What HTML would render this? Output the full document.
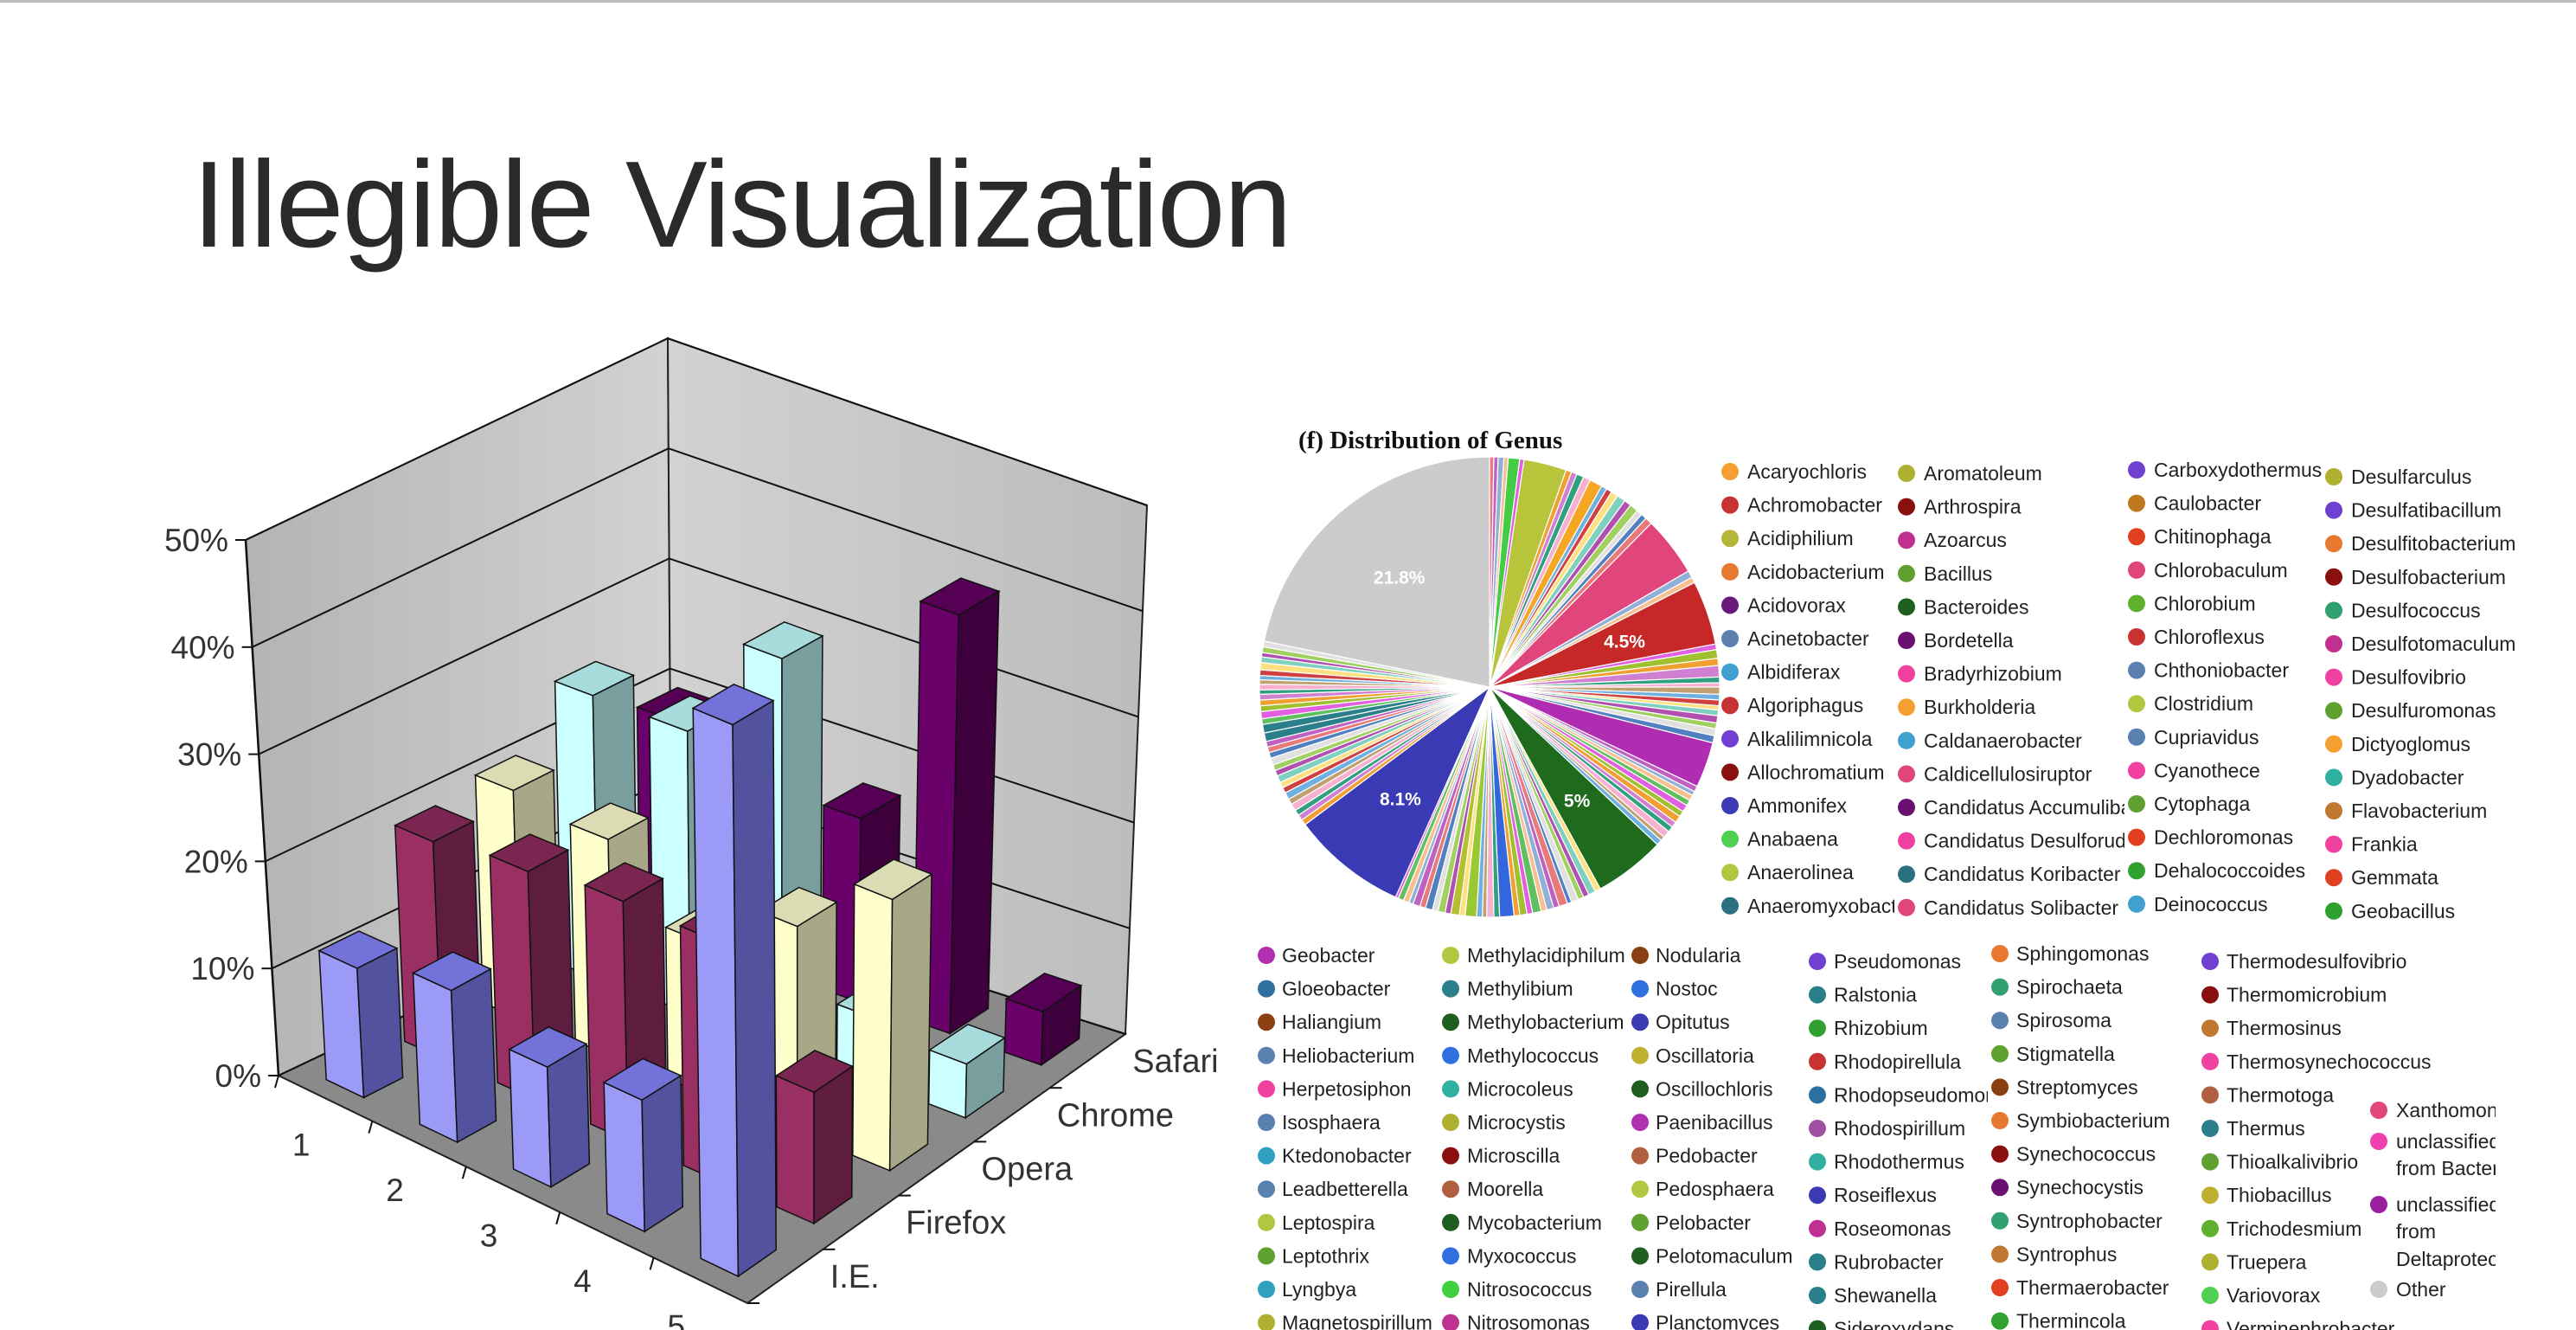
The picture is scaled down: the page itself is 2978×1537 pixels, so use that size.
<!DOCTYPE html>
<html><head><meta charset="utf-8"><style>
html,body{margin:0;padding:0;background:#fff;}
body{width:2978px;height:1537px;overflow:hidden;position:relative;font-family:"Liberation Sans",sans-serif;}
#topline{position:absolute;left:0;top:0;width:2978px;height:3px;background:#bbb;}
#title{position:absolute;left:222px;top:166px;font-size:142px;line-height:1;letter-spacing:-2px;color:#2a2a2a;font-weight:300;white-space:nowrap;}
svg{position:absolute;left:0;top:0;}
</style></head><body>
<div id="topline"></div>
<div id="title">Illegible Visualization</div>
<svg id="svg" width="2978" height="1537" xmlns="http://www.w3.org/2000/svg">
<defs>
<linearGradient id="wallL" x1="0" y1="0" x2="1" y2="0"><stop offset="0" stop-color="#b4b4b4"/><stop offset="1" stop-color="#d2d2d2"/></linearGradient>
<linearGradient id="wallR" x1="0" y1="0" x2="1" y2="0"><stop offset="0" stop-color="#d2d2d2"/><stop offset="1" stop-color="#bcbcbc"/></linearGradient>
</defs>
<g id="chart3d"></g>
<text x="1501" y="518" font-family="Liberation Serif, serif" font-weight="bold" font-size="29" fill="#111">(f) Distribution of Genus</text>
<g id="pie"></g>
<g id="legend"></g>
</svg>
<script>
// ---------- 3D bar chart data ----------
const categories = ['1','2','3','4','5'];
const seriesNames = ['I.E.','Firefox','Opera','Chrome','Safari'];
const ieVals = [12, 14, 11, 12, 50];
const firefoxVals = [20, 21, 22, 22, 12];
const operaVals = [21, 20, 14, 19, 25];
const chromeVals = [26, 26, 36, 6, 5];
const safariVals = [20, 12, 17, 39, 5];
const yTicks = [0,10,20,30,40,50];
const yTickLabels = ['0%','10%','20%','30%','40%','50%'];

// ---------- pie data ----------
const pieValues = [0.3,0.3,0.4,0.3,0.8,0.3,3.0,0.4,0.4,0.5,0.5,0.9,0.4,0.4,0.5,0.6,0.5,0.6,0.4,0.4,0.5,4.2,0.5,0.4,4.5,
0.4,0.6,0.5,0.8,0.4,0.3,0.5,0.4,0.4,0.3,0.4,0.5,0.4,0.5,0.5,3.2,
0.4,0.3,0.4,0.4,0.5,0.4,0.5,0.4,0.4,0.5,0.3,0.4,5.0,
0.4,0.5,0.4,0.4,0.5,0.3,0.6,0.4,0.5,0.4,0.6,0.4,0.5,0.4,1.0,0.4,0.5,0.3,0.4,0.8,0.4,0.6,0.4,0.5,0.4,0.5,0.4,0.5,0.3,0.4,0.4,0.2,8.1,
0.4,0.4,0.4,0.5,0.4,0.5,0.4,0.4,0.5,0.4,0.4,0.5,0.4,0.4,0.4,0.6,0.6,0.4,0.5,0.4,0.4,0.4,0.3,0.4,0.3,0.3,0.4,0.5,0.4,0.3,0.4,0.4,21.8];
const pieLabels = ['21.8%','4.5%','5%','8.1%'];
const pieLabelValues = [21.8,4.5,5.0,8.1];

// ---------- legend data ----------
const legendTop = [
[['Acaryochloris','#f5a030'],['Achromobacter','#c83232'],['Acidiphilium','#b5b53a'],['Acidobacterium','#e87830'],['Acidovorax','#6a1a7a'],['Acinetobacter','#5a80b0'],['Albidiferax','#40a0d0'],['Algoriphagus','#c83232'],['Alkalilimnicola','#7040d0'],['Allochromatium','#8a1010'],['Ammonifex','#3a3ab5'],['Anabaena','#50d050'],['Anaerolinea','#b0c840'],['Anaeromyxobacter','#2a7080']],
[['Aromatoleum','#b0b030'],['Arthrospira','#8a1010'],['Azoarcus','#c03090'],['Bacillus','#60a030'],['Bacteroides','#1e5e1e'],['Bordetella','#6a1070'],['Bradyrhizobium','#f040a0'],['Burkholderia','#f5a030'],['Caldanaerobacter','#40a0d0'],['Caldicellulosiruptor','#e0457b'],['Candidatus Accumulibacter','#6a1070'],['Candidatus Desulforudis','#f040a0'],['Candidatus Koribacter','#2a7080'],['Candidatus Solibacter','#e0457b']],
[['Carboxydothermus','#7040d0'],['Caulobacter','#c07820'],['Chitinophaga','#e04020'],['Chlorobaculum','#e0457b'],['Chlorobium','#60b030'],['Chloroflexus','#c83232'],['Chthoniobacter','#5a80b0'],['Clostridium','#b0c840'],['Cupriavidus','#5a80b0'],['Cyanothece','#f040a0'],['Cytophaga','#60a030'],['Dechloromonas','#e04020'],['Dehalococcoides','#30a030'],['Deinococcus','#40a0d0']],
[['Desulfarculus','#b0b030'],['Desulfatibacillum','#7040d0'],['Desulfitobacterium','#e87830'],['Desulfobacterium','#8a1010'],['Desulfococcus','#30a070'],['Desulfotomaculum','#c03090'],['Desulfovibrio','#f040a0'],['Desulfuromonas','#60a030'],['Dictyoglomus','#f5a030'],['Dyadobacter','#30b0a0'],['Flavobacterium','#c07830'],['Frankia','#f040a0'],['Gemmata','#e04020'],['Geobacillus','#30a030']]
];
const legendBottom = [
[['Geobacter','#b030b0'],['Gloeobacter','#3070a0'],['Haliangium','#8a4010'],['Heliobacterium','#5a80b0'],['Herpetosiphon','#f040a0'],['Isosphaera','#5a80b0'],['Ktedonobacter','#30a0c0'],['Leadbetterella','#5a80b0'],['Leptospira','#b0c840'],['Leptothrix','#60a030'],['Lyngbya','#30a0c0'],['Magnetospirillum','#b0b030']],
[['Methylacidiphilum','#b0c840'],['Methylibium','#2a7f8a'],['Methylobacterium','#1e5e1e'],['Methylococcus','#3070e0'],['Microcoleus','#30b0a0'],['Microcystis','#b0b030'],['Microscilla','#8a1010'],['Moorella','#b06040'],['Mycobacterium','#1e5e1e'],['Myxococcus','#3070e0'],['Nitrosococcus','#40d040'],['Nitrosomonas','#c03090']],
[['Nodularia','#8a4010'],['Nostoc','#3070e0'],['Opitutus','#3a3ab5'],['Oscillatoria','#c0b030'],['Oscillochloris','#1e5e1e'],['Paenibacillus','#b030b0'],['Pedobacter','#b06040'],['Pedosphaera','#b0c840'],['Pelobacter','#60a030'],['Pelotomaculum','#1e5e1e'],['Pirellula','#5a80b0'],['Planctomyces','#3a3ab5']],
[['Pseudomonas','#7040d0'],['Ralstonia','#2a7f8a'],['Rhizobium','#30a030'],['Rhodopirellula','#c83232'],['Rhodopseudomonas','#2a70a0'],['Rhodospirillum','#a050a0'],['Rhodothermus','#30b0a0'],['Roseiflexus','#3a3ab5'],['Roseomonas','#c03090'],['Rubrobacter','#2a7f8a'],['Shewanella','#2a7f8a'],['Sideroxydans','#1e5e1e']],
[['Sphingomonas','#e87830'],['Spirochaeta','#30a070'],['Spirosoma','#5a80b0'],['Stigmatella','#60a030'],['Streptomyces','#8a4010'],['Symbiobacterium','#e87830'],['Synechococcus','#8a1010'],['Synechocystis','#6a1070'],['Syntrophobacter','#30a070'],['Syntrophus','#c07830'],['Thermaerobacter','#e04020'],['Thermincola','#30a030']],
[['Thermodesulfovibrio','#7040d0'],['Thermomicrobium','#8a1010'],['Thermosinus','#c07830'],['Thermosynechococcus','#f040a0'],['Thermotoga','#b06040'],['Thermus','#2a7f8a'],['Thioalkalivibrio','#60a030'],['Thiobacillus','#c0b030'],['Trichodesmium','#60b030'],['Truepera','#b0b030'],['Variovorax','#50d050'],['Verminephrobacter','#f040a0']]
];

const NS='http://www.w3.org/2000/svg';
function mk(tag, attrs, parent){const e=document.createElementNS(NS,tag);for(const k in attrs)e.setAttribute(k,attrs[k]);parent.appendChild(e);return e;}

// ---------- 3D projection ----------
const floorC={L:[322,1243],F:[864,1506],R:[1301,1195],B:[776,1027]};
const topC={L:[284,624],F:[858,866],R:[1326,584],B:[772,391]};
function bil(c,u,v){const a=(1-u)*(1-v),b=u*(1-v),r=u*v,d=(1-u)*v;
 return [c.L[0]*a+c.F[0]*b+c.R[0]*r+c.B[0]*d, c.L[1]*a+c.F[1]*b+c.R[1]*r+c.B[1]*d];}
function proj(u,v,h){const p=bil(floorC,u,v),t=bil(topC,u,v),f=h/50;return [p[0]+(t[0]-p[0])*f,p[1]+(t[1]-p[1])*f];}
function pts(arr){return arr.map(p=>p[0].toFixed(1)+','+p[1].toFixed(1)).join(' ');}

const g3=document.getElementById('chart3d');
let e;
e=mk('polygon',{points:pts([proj(0,0,0),proj(0,1,0),proj(0,1,50),proj(0,0,50)]),fill:'url(#wallL)',stroke:'#222','stroke-width':2},g3);


e=mk('polygon',{points:pts([proj(0,1,0),proj(1,1,0),proj(1,1,50),proj(0,1,50)]),fill:'url(#wallR)',stroke:'#222','stroke-width':2},g3);


e=mk('polygon',{points:pts([proj(0,0,0),proj(1,0,0),proj(1,1,0),proj(0,1,0)]),fill:'#8a8a8a',stroke:'#222','stroke-width':2},g3);


yTicks.forEach((t,i)=>{
 const a=proj(0,0,t),b=proj(0,1,t),c=proj(1,1,t);
 e=mk('polyline',{points:pts([a,b,c]),fill:'none',stroke:'#111','stroke-width':2},g3);
 
 
 mk('line',{x1:a[0]-12,y1:a[1],x2:a[0],y2:a[1],stroke:'#111','stroke-width':2},g3);
 e=mk('text',{x:a[0]-20,y:a[1]+13,'text-anchor':'end','font-size':37,fill:'#333'},g3);
 e.textContent=yTickLabels[i];
 
 
});
mk('line',{x1:proj(0,0,0)[0],y1:proj(0,0,0)[1],x2:proj(0,0,50)[0],y2:proj(0,0,50)[1],stroke:'#111','stroke-width':2.5},g3);
categories.forEach((c,i)=>{
 const tk=proj(i/5,0,0);
 mk('line',{x1:tk[0],y1:tk[1],x2:tk[0]-4,y2:tk[1]+14,stroke:'#111','stroke-width':2},g3);
 const p=proj((i+0.5)/5,0,0);
 e=mk('text',{x:p[0]-28,y:p[1]+66,'text-anchor':'middle','font-size':37,fill:'#333'},g3);
 e.textContent=c;
 
 
});
seriesNames.forEach((s,j)=>{
 const tk=proj(1,j/5,0);
 mk('line',{x1:tk[0],y1:tk[1],x2:tk[0]+14,y2:tk[1],stroke:'#111','stroke-width':2},g3);
 const p=proj(1,(j+0.5)/5,0);
 e=mk('text',{x:p[0]+52,y:p[1]+13,'font-size':38,fill:'#333'},g3);
 e.textContent=s;
 
 
});
const seriesVals=[ieVals,firefoxVals,operaVals,chromeVals,safariVals];
const faceCols=[['#9b9bf7','#52529e','#7272d8'],['#9a2f64','#5e1c3e','#7a2650'],['#ffffcc','#a8a888','#dcdcb4'],['#ccffff','#789e9e','#a8dcdc'],['#6a006a','#3d003d','#550055']];
const bars=[];
seriesVals.forEach((vals,j)=>vals.forEach((val,i)=>bars.push({i,j,val})));
bars.sort((a,b)=>((a.i-a.j)-(b.i-b.j))||(b.j-a.j));
bars.forEach(b=>{
 const uc=(b.i+0.5)/5,vc=(b.j+0.5)/5,du=0.04,dv=0.05,h=b.val;
 const u0=uc-du,u1=uc+du,v0=vc-dv,v1=vc+dv,col=faceCols[b.j];
 const g=mk('g',{},g3);
 
 
 mk('polygon',{points:pts([proj(u0,v0,0),proj(u1,v0,0),proj(u1,v0,h),proj(u0,v0,h)]),fill:col[0],stroke:'#111','stroke-width':1.5},g);
 mk('polygon',{points:pts([proj(u1,v0,0),proj(u1,v1,0),proj(u1,v1,h),proj(u1,v0,h)]),fill:col[1],stroke:'#111','stroke-width':1.5},g);
 mk('polygon',{points:pts([proj(u0,v0,h),proj(u1,v0,h),proj(u1,v1,h),proj(u0,v1,h)]),fill:col[2],stroke:'#111','stroke-width':1.5},g);
});

// ---------- pie ----------
const pieG=document.getElementById('pie');
const cx=1722,cy=794,R=266;
const palette=['#e87a7a','#c060c0','#90b0d8','#f8c090','#60c060','#e060e0','#a0c030','#f0a030','#d080d0','#30a080','#f8b0d0','#c0a070','#70b0e0','#d04040','#ffe080','#80d0c0','#b050b0','#9fd060','#e0e0e0','#5080c0'];
const special={};special[6]='#b8c43a';special[4]='#44cc44';special[11]='#f5a623';special[21]='#e0457b';special[24]='#c62828';special[40]='#b02cb0';special[53]='#1e6b1e';special[68]='#3366dd';special[73]='#9ac832';special[75]='#b5c030';special[86]='#3a3ab5';special[102]='#2a7f8a';special[103]='#2a7f8a';special[pieValues.length-1]='#cccccc';
const total=pieValues.reduce((a,b)=>a+b,0);
let acc=0;
pieValues.forEach((v,k)=>{
 const a0=acc/total*2*Math.PI; acc+=v; const a1=acc/total*2*Math.PI;
 const x0=cx+R*Math.sin(a0),y0=cy-R*Math.cos(a0),x1=cx+R*Math.sin(a1),y1=cy-R*Math.cos(a1);
 const large=(a1-a0)>Math.PI?1:0;
 const col=special[k]||palette[k%palette.length];
 const p=mk('path',{d:`M${cx},${cy} L${x0.toFixed(1)},${y0.toFixed(1)} A${R},${R} 0 ${large} 1 ${x1.toFixed(1)},${y1.toFixed(1)} Z`,fill:col,stroke:'#fff','stroke-width':1.2},pieG);
 
 
 const li=pieLabelValues.indexOf(v);
 if(li>=0 && v>=4.5){
  const am=(a0+a1)/2,rr=R*0.62;
  const t=mk('text',{x:cx+rr*Math.sin(am),y:cy-rr*Math.cos(am)+8,'text-anchor':'middle','font-size':21,'font-weight':'bold',fill:'#fff'},pieG);
  t.textContent=pieLabels[li];
  
  
 }
});

// ---------- legends ----------
const legG=document.getElementById('legend');
const defs=document.querySelector('defs');
function legendCol(items,dotX,textX,clipRight,y0,step,key){
 const cp=mk('clipPath',{id:'cp'+key},defs);
 mk('rect',{x:textX-2,y:0,width:clipRight-textX,height:1537},cp);
 const g=mk('g',{'clip-path':'url(#cp'+key+')'},legG);
 items.forEach((it,r)=>{
  const y=y0+r*step;
  const d=mk('circle',{cx:dotX,cy:y,r:10,fill:it[1]},legG);
  
  
  const t=mk('text',{x:textX,y:y+8,'font-size':23,fill:'#222'},g);
  t.textContent=it[0];
  
  
 });
}
const topDotX=[2000,2204,2470,2698],topTextX=[2020,2224,2490,2718],topClip=[2192,2458,2686,2910],topY=[545,547,543,551];
legendTop.forEach((c,k)=>legendCol(c,topDotX[k],topTextX[k],topClip[k],topY[k],38.6,'t'+k));
const botDotX=[1464,1677,1896,2101,2312,2555],botTextX=[1482,1696,1914,2120,2331,2574],botClip=[1666,1886,2090,2300,2544,2910],botY=[1104,1104,1104,1111,1102,1111];
legendBottom.forEach((c,k)=>legendCol(c,botDotX[k],botTextX[k],botClip[k],botY[k],38.6,'b'+k));
const cp7=mk('clipPath',{id:'cp7'},defs);
mk('rect',{x:2765,y:0,width:120,height:1537},cp7);
const g7=mk('g',{'clip-path':'url(#cp7)'},legG);
const col7Dots=[[1283,'#e0457b'],[1319,'#f040b0'],[1392,'#9a20a0'],[1490,'#cccccc']];
col7Dots.forEach(d=>{const c=mk('circle',{cx:2750,cy:d[0],r:10,fill:d[1]},legG);
 
 });
const col7Text=[[1283,'Xanthomonas'],[1319,'unclassified'],[1350,'from Bacteroidetes'],[1392,'unclassified'],[1423,'from'],[1455,'Deltaproteobacteria'],[1490,'Other']];
col7Text.forEach(d=>{const t=mk('text',{x:2770,y:d[0]+8,'font-size':23,fill:'#222'},g7);t.textContent=d[1];
 
 });
</script>
</body></html>
